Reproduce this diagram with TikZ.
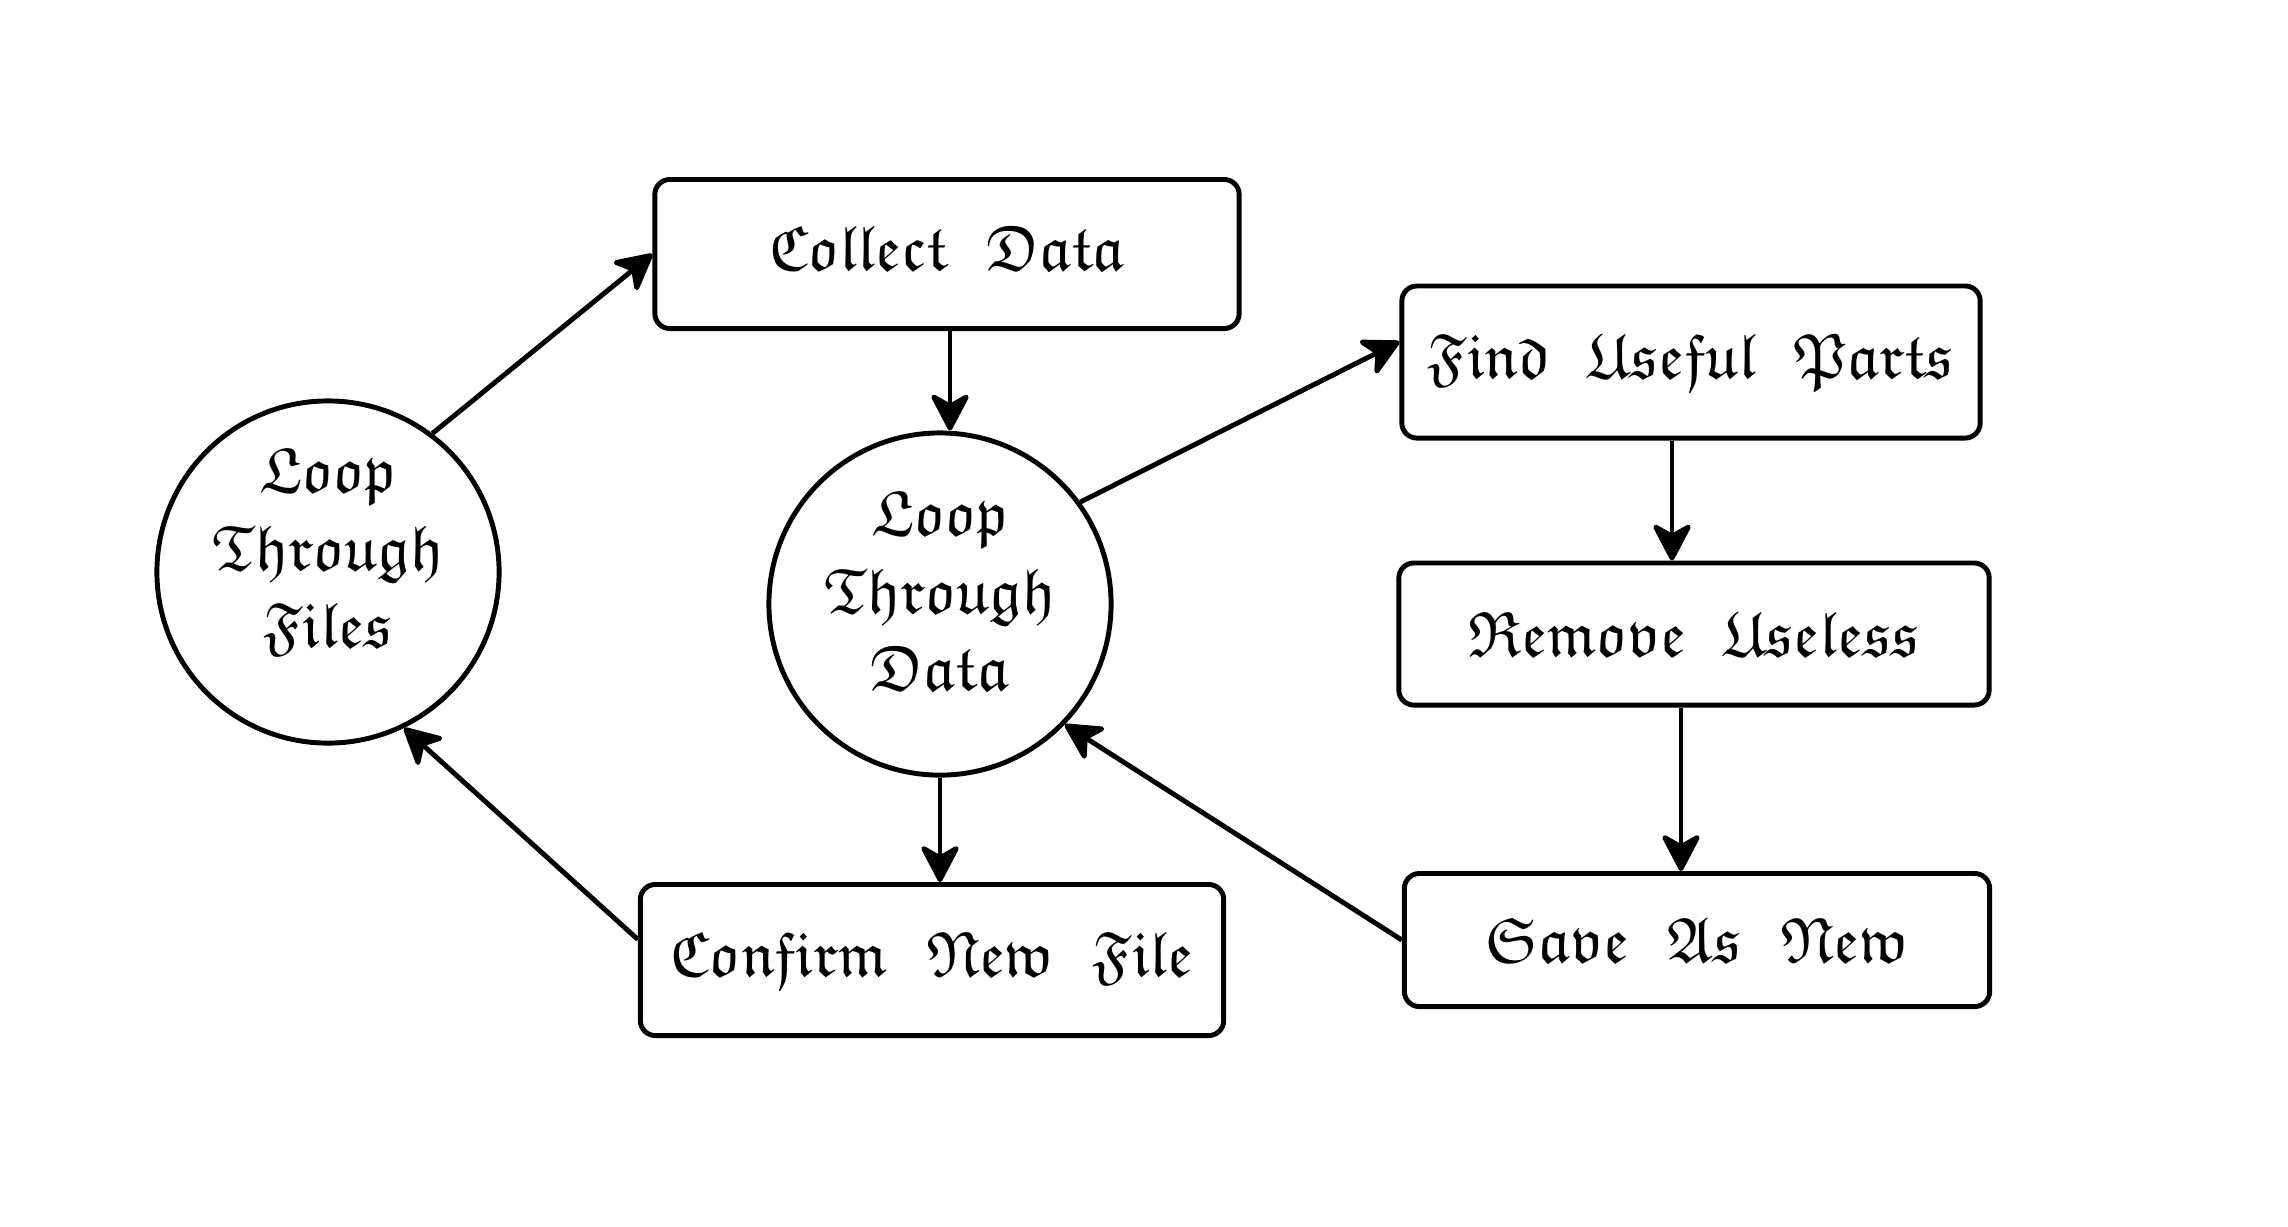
\documentclass[tikz,border=0pt]{standalone}
\usepackage{amsfonts}
\usetikzlibrary{arrows.meta}
\newcommand{\gothsel}{\usefont{U}{euf}{m}{n}\fontsize{18.2}{22}\selectfont}
\newcommand{\wsp}{\hspace{0.6em}}
\tikzset{
  lw/.style={line width=1.4pt},
  box/.style={draw, lw, rounded corners=0.15cm, inner sep=0pt,
    font=\gothsel},
  circ/.style={draw, circle, lw, minimum size=3.42cm, inner sep=0pt},
  ctext/.style={align=center, inner sep=0pt, font=\gothsel},
  arr/.style={lw, -{Stealth[length=12pt,width=12.5pt,inset=3.5pt,round]}}
}
\begin{document}
\begin{tikzpicture}[x=0.01cm, y=-0.01cm]
\useasboundingbox (0,0) rectangle (2288,1226);
\node[box, minimum width=5.84cm, minimum height=1.49cm] (collect) at (947,254) {\raisebox{3pt}{Collect\wsp Data}};
\node[box, minimum width=5.78cm, minimum height=1.52cm] (find) at (1691,362) {Find\wsp Useful\wsp Parts};
\node[box, minimum width=5.90cm, minimum height=1.42cm] (remove) at (1694,634) {Remove\wsp Useless};
\node[box, minimum width=5.85cm, minimum height=1.33cm] (save) at (1697,940) {Save\wsp As\wsp New};
\node[box, minimum width=5.83cm, minimum height=1.51cm] (confirm) at (932,960) {Confirm\wsp New\wsp File};
\node[circ] (ltf) at (328,572) {};
\node[ctext] (ltft) at (328,552) {Loop\\Through\\Files};
\node[circ] (ltd) at (940,604) {};
\node[ctext] (ltdt) at (940,591) {Loop\\Through\\Data};
\draw[arr] (ltf.53) -- (collect.west);
\draw[arr] ([xshift=0.03cm]collect.south) -- ([xshift=0.03cm]collect.south |- ltd.north);
\draw[arr] (ltd.36) -- (find.176);
\draw[arr] ([xshift=-0.19cm]find.south) -- ([xshift=-0.19cm]find.south |- remove.north);
\draw[arr] ([xshift=-0.13cm]remove.south) -- ([xshift=-0.13cm]remove.south |- save.north);
\draw[arr] (save.west) -- (ltd.-44);
\draw[arr] (ltd.south) -- (ltd.south |- confirm.north);
\draw[arr] (confirm.176) -- (ltf.-64);
\end{tikzpicture}
\end{document}
